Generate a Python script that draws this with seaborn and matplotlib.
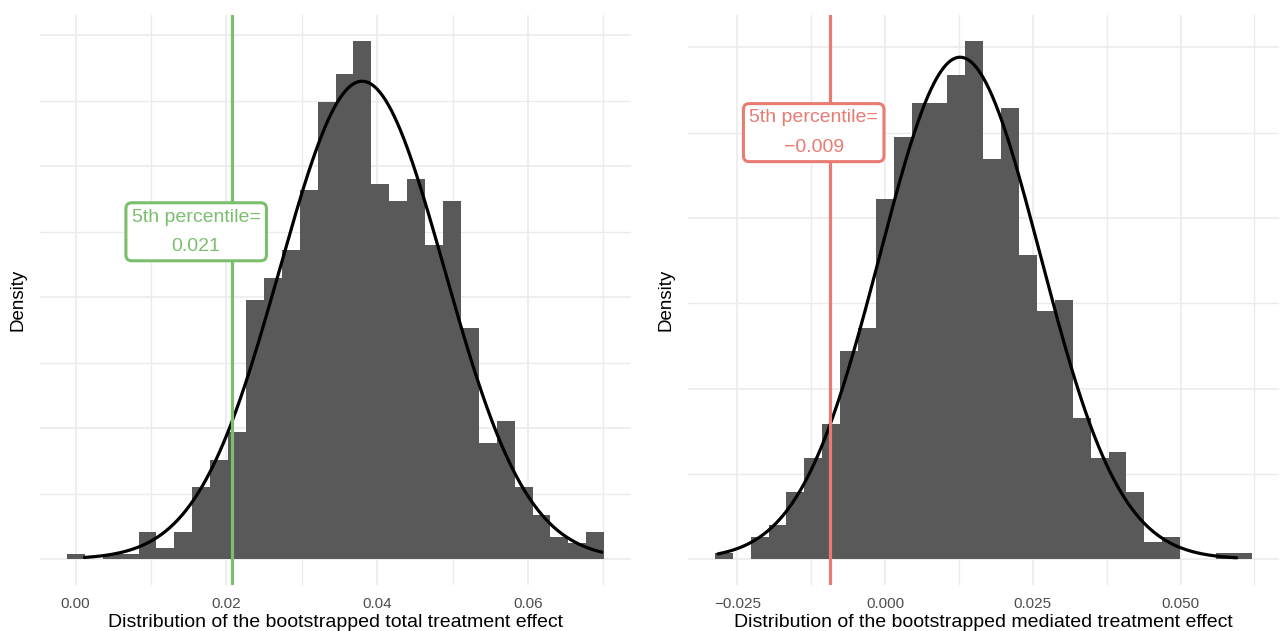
import numpy as np
import pandas as pd
import matplotlib
matplotlib.use("Agg")
import matplotlib.pyplot as plt
import seaborn as sns

# ---------------- data ----------------
# Left panel: bootstrapped total treatment effect (30 bins)
total_bin_range = (-0.00115, 0.0701)
total_counts = [1, 0, 1, 1, 5, 2, 5, 13, 18, 23,
                47, 51, 56, 67, 83, 88, 94, 68, 65, 69,
                57, 65, 42, 21, 25, 13, 8, 4, 3, 5]
total_mean = 0.0380
total_sd = 0.01093
total_curve_range = (0.0012, 0.0698)
total_p5 = 0.0207
total_label_pos = (0.0160, 25.0)
total_label = "5th percentile=\n0.021"
total_xticks = [0.00, 0.02, 0.04, 0.06]
total_xticklabels = ["0.00", "0.02", "0.04", "0.06"]
total_xminor = [0.01, 0.03, 0.05, 0.07]
total_yticks = [0, 10, 20, 30, 40]
total_yminor = [5, 15, 25, 35]
total_xlabel = "Distribution of the bootstrapped total treatment effect"

# Right panel: bootstrapped mediated treatment effect (30 bins)
med_bin_range = (-0.02883, 0.06203)
med_counts = [1, 0, 4, 6, 12, 18, 24, 37, 41, 64,
              75, 81, 81, 86, 92, 71, 80, 54, 44, 46,
              25, 18, 19, 12, 3, 4, 0, 0, 1, 1]
med_mean = 0.01268
med_sd = 0.01356
med_curve_range = (-0.0283, 0.0595)
med_p5 = -0.00936
med_label_pos = (-0.0121, 25.0)
med_label = "5th percentile=\n\u22120.009"
med_xticks = [-0.025, 0.000, 0.025, 0.050]
med_xticklabels = ["\u22120.025", "0.000", "0.025", "0.050"]
med_xminor = [-0.0125, 0.0125, 0.0375, 0.0625]
med_yticks = [0, 10, 20, 30]
med_yminor = [5, 15, 25]
med_xlabel = "Distribution of the bootstrapped mediated treatment effect"

GREEN = "#7BBF6E"
RED = "#E97B72"
BAR = "#595959"
GRID = "#EBEBEB"

# ---------------- styling ----------------
sns.set_theme(style="white")
plt.rcParams["font.family"] = ["Liberation Sans", "DejaVu Sans"]

W, H = 1284, 631
fig = plt.figure(figsize=(W / 100, H / 100), dpi=100)
ax1 = fig.add_axes([40 / W, 1 - 585 / H, 591 / W, 570 / H])
ax2 = fig.add_axes([688 / W, 1 - 585 / H, 590.5 / W, 570 / H])


def panel(ax, counts, bin_range, mean, sd, curve_range, pct, lab_pos, lab_text,
          color, xt, xtl, xmn, yt, ymn, xlabel):
    counts = np.asarray(counts, dtype=float)
    nb = len(counts)
    edges = np.linspace(bin_range[0], bin_range[1], nb + 1)
    centers = (edges[:-1] + edges[1:]) / 2
    df = pd.DataFrame({"x": centers, "w": counts})
    sns.histplot(data=df, x="x", weights="w", bins=nb, binrange=bin_range,
                 stat="density", color=BAR, alpha=1, edgecolor="none",
                 linewidth=0, ax=ax, zorder=2)
    xs = np.linspace(curve_range[0], curve_range[1], 500)
    ys = np.exp(-0.5 * ((xs - mean) / sd) ** 2) / (sd * np.sqrt(2 * np.pi))
    sns.lineplot(x=xs, y=ys, color="black", linewidth=2.3, ax=ax, zorder=3)
    ax.axvline(pct, color=color, linewidth=2.3, zorder=4)
    ax.text(lab_pos[0], lab_pos[1], lab_text, ha="center", va="center",
            multialignment="center", fontsize=14, color=color, linespacing=1.95,
            zorder=6,
            bbox=dict(boxstyle="round,pad=0.3,rounding_size=0.3", fc="white",
                      ec=color, lw=2.2))

    dens = counts / (counts.sum() * (edges[1] - edges[0]))
    ymax = max(dens.max(), ys.max())
    ax.set_ylim(-0.05 * ymax, 1.05 * ymax)
    lo = min(bin_range[0], curve_range[0])
    hi = max(bin_range[1], curve_range[1])
    r = hi - lo
    ax.set_xlim(lo - 0.05 * r, hi + 0.05 * r)

    ax.set_xticks(xt)
    ax.set_xticklabels(xtl)
    ax.set_xticks(xmn, minor=True)
    ax.set_yticks(yt)
    ax.set_yticks(ymn, minor=True)
    ax.set_yticklabels([])
    ax.grid(which="major", color=GRID, linewidth=1.2)
    ax.grid(which="minor", color=GRID, linewidth=1.0)
    ax.set_axisbelow(True)
    ax.tick_params(which="both", length=0)
    ax.tick_params(axis="x", labelsize=11, labelcolor="#4D4D4D", pad=8.5)
    for s in ax.spines.values():
        s.set_visible(False)
    ax.set_xlabel(xlabel, fontsize=14, color="black", labelpad=2.5)
    ax.set_ylabel("Density", fontsize=13.5, color="black", labelpad=6)


panel(ax1, total_counts, total_bin_range, total_mean, total_sd, total_curve_range,
      total_p5, total_label_pos, total_label, GREEN, total_xticks,
      total_xticklabels, total_xminor, total_yticks, total_yminor, total_xlabel)
panel(ax2, med_counts, med_bin_range, med_mean, med_sd, med_curve_range,
      med_p5, med_label_pos, med_label, RED, med_xticks,
      med_xticklabels, med_xminor, med_yticks, med_yminor, med_xlabel)

fig.savefig("out.png", dpi=100)
